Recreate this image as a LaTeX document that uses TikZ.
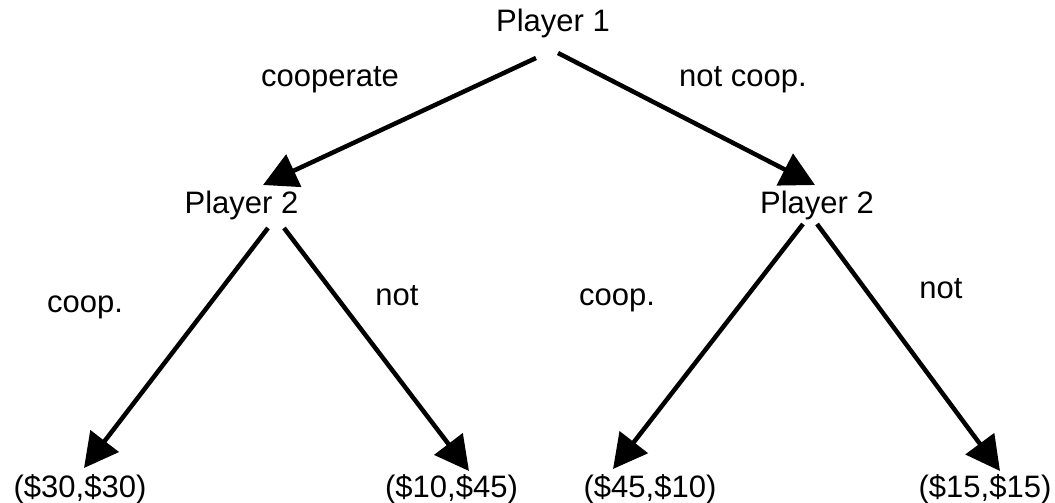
\documentclass[tikz,border=0pt]{standalone}
\usepackage{fontspec}
\setmainfont{Liberation Sans}
\usetikzlibrary{arrows.meta}
\tikzset{
    % every text of the tree, set on its baseline
    word/.style={anchor=base, inner sep=0pt, font=\fontsize{31}{36}\selectfont},
    % style of a move, with a big head at its end
    move/.style={line width=4.5pt, -{Triangle[length=34pt,width=35pt]}}
}

\begin{document}
\begin{tikzpicture}[x=1pt,y=-1pt]
            \useasboundingbox (0,0) rectangle (1055,503);
            % players
            \node[word] (p1)  at (553,32)   {Player 1};
            \node[word] (p2l) at (241.5,213) {Player 2};
            \node[word] (p2r) at (817,213)  {Player 2};
            % payoffs
            \node[word] (l1) at (80,497)    {(\$30,\$30)};
            \node[word] (l2) at (451.5,497) {(\$10,\$45)};
            \node[word] (l3) at (650,497)   {(\$45,\$10)};
            \node[word] (l4) at (985,497)   {(\$15,\$15)};
            % names of the moves
            \node[word] (m1) at (330,87)  {cooperate};
            \node[word] (m2) at (743,86)  {not coop.};
            \node[word] (m3) at (85,312)  {coop.};
            \node[word] (m4) at (397,305) {not};
            \node[word] (m5) at (617,305) {coop.};
            \node[word] (m6) at (941,298) {not};
            \begin{scope}
                \draw[move] ([shift={(-17,26)}]p1.base) -- ([shift={(21.5,-28)}]p2l.base);
                \draw[move] ([shift={(5,21)}]p1.base) -- ([shift={(-2,-28)}]p2r.base);
                \draw[move] ([shift={(26.5,15)}]p2l.base) -- ([shift={(4,-29)}]l1.base);
                \draw[move] ([shift={(42.5,15)}]p2l.base) -- ([shift={(17.5,-26)}]l2.base);
                \draw[move] ([shift={(-14,11)}]p2r.base) -- ([shift={(-37,-28)}]l3.base);
                \draw[move] ([shift={(0,11)}]p2r.base) -- ([shift={(15,-26)}]l4.base);
            \end{scope}
        \end{tikzpicture}
\end{document}
